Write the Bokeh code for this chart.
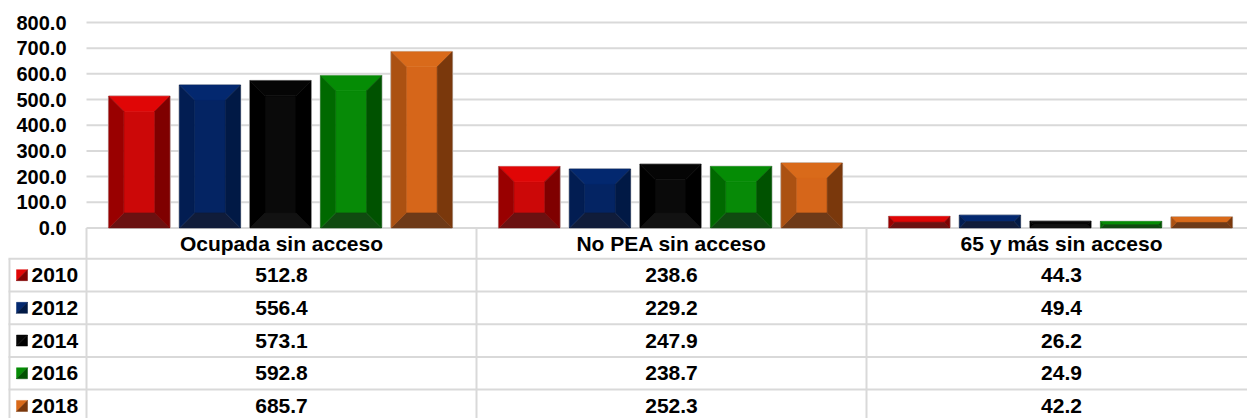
from bokeh.plotting import figure
from bokeh.models import Range1d, ColumnDataSource
from bokeh.core.properties import value
from bokeh.embed import file_html
from bokeh.resources import INLINE

# ---------------- data ----------------
categories = ["Ocupada sin acceso", "No PEA sin acceso", "65 y más sin acceso"]
years = ["2010", "2012", "2014", "2016", "2018"]
v2010 = [512.8, 238.6, 44.3]
v2012 = [556.4, 229.2, 49.4]
v2014 = [573.1, 247.9, 26.2]
v2016 = [592.8, 238.7, 24.9]
v2018 = [685.7, 252.3, 42.2]
y_ticks = [0, 100, 200, 300, 400, 500, 600, 700, 800]

series = [v2010, v2012, v2014, v2016, v2018]

# bevel face colours per year: top, center, left, right, bottom
faces = {
    "2010": ("#E00606", "#CC0808", "#990000", "#7F0000", "#6B1111"),
    "2012": ("#03286F", "#042463", "#021D52", "#011945", "#101C3A"),
    "2014": ("#050505", "#0A0A0A", "#000000", "#000000", "#121212"),
    "2016": ("#058C05", "#078A07", "#006900", "#005200", "#104A10"),
    "2018": ("#D96A1A", "#D6661A", "#AB5112", "#7A380C", "#6E3A18"),
}

FONT = value("Liberation Sans")
GRID = "#D9D9D9"

# ---------------- layout constants (px) ----------------
W, H = 1247, 418
PLOT_L = 86.0          # left edge of plot / table body
CAT_PX = 390.0         # px per category column
ZERO_PX = 227.4        # screen y of value 0
S = 0.25675            # px per value unit
TABLE_L = 8.0
HEAD_B = 258.3
ROW_H = 32.7
LABEL_R = 66.0
STEP = 0.181
BAR_W = 0.1564
BEVEL_PX = 15.0


def px2x(px):
    return (px - PLOT_L) / CAT_PX


p = figure(width=W, height=H, output_backend="svg", toolbar_location=None,
           x_range=Range1d(px2x(0), px2x(W)),
           y_range=Range1d(-(H - ZERO_PX) / S, ZERO_PX / S),
           min_border_left=0, min_border_right=0, min_border_top=0, min_border_bottom=0,
           x_axis_location=None, y_axis_location=None, outline_line_color=None)
p.grid.visible = False
p.background_fill_color = "white"
p.border_fill_color = "white"
p.extra_y_ranges = {"tbl": Range1d(-H, 0)}   # table drawn in screen px (y = -px)

x_end = px2x(W)

# ---------------- value gridlines + tick labels ----------------
p.segment(x0=[0] * len(y_ticks), x1=[x_end] * len(y_ticks), y0=y_ticks, y1=y_ticks,
          line_color=GRID, line_width=2)
p.text(x=[px2x(LABEL_R)] * len(y_ticks), y=y_ticks, text=[f"{t:.1f}" for t in y_ticks],
       text_font=FONT, text_font_style="bold", text_font_size="20px",
       text_align="right", text_baseline="middle", text_color="black")

# ---------------- bevelled bars ----------------
xs_all, ys_all, cols = [], [], []
ol_l, ol_r, ol_t = [], [], []
for j, (yr, vals) in enumerate(zip(years, series)):
    top_c, cen_c, left_c, right_c, bot_c = faces[yr]
    for i, v in enumerate(vals):
        xc = i + 0.5 + (j - 2) * STEP - 1.0 / CAT_PX
        x0, x1 = xc - BAR_W / 2, xc + BAR_W / 2
        b = min(BEVEL_PX, v * S / 2.0)
        bx, by = b / CAT_PX, b / S
        y1 = v
        ol_l.append(x0); ol_r.append(x1); ol_t.append(y1)
        polys = [
            ([x0 + bx, x1 - bx, x1 - bx, x0 + bx], [by, by, y1 - by, y1 - by], cen_c),
            ([x0, x1, x1 - bx, x0 + bx], [y1, y1, y1 - by, y1 - by], top_c),
            ([x0, x1, x1 - bx, x0 + bx], [0, 0, by, by], bot_c),
            ([x0, x0, x0 + bx, x0 + bx], [0, y1, y1 - by, by], left_c),
            ([x1, x1, x1 - bx, x1 - bx], [0, y1, y1 - by, by], right_c),
        ]
        for px_, py_, c in polys:
            xs_all.append(px_); ys_all.append(py_); cols.append(c)

p.quad(left=ol_l, right=ol_r, top=ol_t, bottom=[0] * len(ol_l),
       fill_color=None, line_color="#CFCFCF", line_width=2)
p.patches(xs="xs", ys="ys", fill_color="c", line_color="c", line_width=0.6,
          source=ColumnDataSource(dict(xs=xs_all, ys=ys_all, c=cols)))

# ---------------- data table ----------------
n_rows = len(years)
row_lines = [-(HEAD_B + k * ROW_H) for k in range(n_rows + 1)]
p.segment(x0=[px2x(TABLE_L)] * len(row_lines), x1=[x_end] * len(row_lines),
          y0=row_lines, y1=row_lines, line_color=GRID, line_width=2, y_range_name="tbl")
p.segment(x0=[px2x(TABLE_L + 1)], x1=[px2x(TABLE_L + 1)], y0=[-HEAD_B], y1=[-H],
          line_color=GRID, line_width=2, y_range_name="tbl")
p.segment(x0=[0, 1, 2], x1=[0, 1, 2], y0=[-ZERO_PX] * 3, y1=[-H] * 3,
          line_color=GRID, line_width=2, y_range_name="tbl")

# header
head_y = -(ZERO_PX + HEAD_B) / 2
p.text(x=[i + 0.5 for i in range(len(categories))], y=[head_y] * len(categories),
       text=categories, text_font=FONT, text_font_style="bold", text_font_size="21px",
       text_align="center", text_baseline="middle", text_color="black", y_range_name="tbl")

row_c = [-(HEAD_B + (k + 0.5) * ROW_H) for k in range(n_rows)]

# legend swatches (diagonally split)
SW_L, SW = 16.0, 11.0
sw_xs, sw_ys, sw_c = [], [], []
for k, yr in enumerate(years):
    xl, xr = px2x(SW_L), px2x(SW_L + SW)
    yt, yb = row_c[k] + SW / 2, row_c[k] - SW / 2
    sw_xs.append([xl, xr, xl]); sw_ys.append([yt, yt, yb]); sw_c.append(faces[yr][0])
    sw_xs.append([xr, xr, xl]); sw_ys.append([yt, yb, yb]); sw_c.append(faces[yr][3])
p.patches(xs="xs", ys="ys", fill_color="c", line_color="c", line_width=0.5,
          source=ColumnDataSource(dict(xs=sw_xs, ys=sw_ys, c=sw_c)), y_range_name="tbl")
p.text(x=[px2x(31)] * n_rows, y=row_c, text=years, text_font=FONT,
       text_font_style="bold", text_font_size="21px", text_align="left",
       text_baseline="middle", text_color="black", y_range_name="tbl")

tx, ty, tt = [], [], []
for k, vals in enumerate(series):
    for i, v in enumerate(vals):
        tx.append(i + 0.5); ty.append(row_c[k]); tt.append(f"{v:.1f}")
p.text(x=tx, y=ty, text=tt, text_font=FONT, text_font_style="bold",
       text_font_size="21px", text_align="center", text_baseline="middle",
       text_color="black", y_range_name="tbl")

open("out.html", "w").write(file_html(p, INLINE))
